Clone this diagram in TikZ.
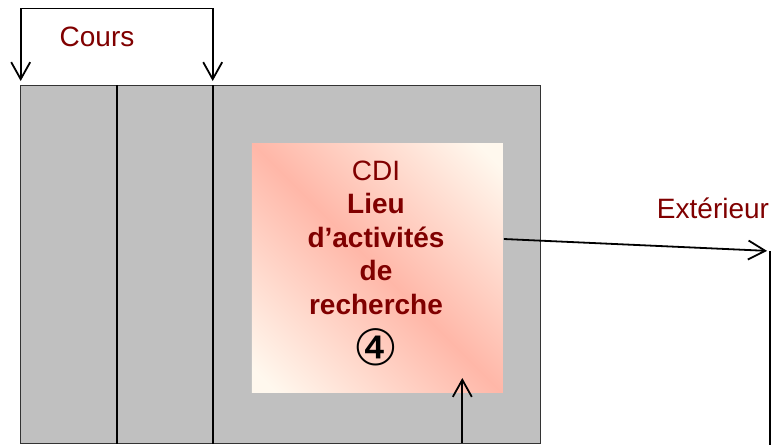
\documentclass[tikz,border=0pt]{standalone}
\usepackage{fontspec}
\setmainfont{Liberation Sans}
\newfontfamily\symbfont{DejaVu Sans}
\usepackage{tikz}
\usetikzlibrary{positioning}
\usetikzlibrary{arrows.meta}

\definecolor{titre}{RGB}{128,0,0}
\definecolor{salle}{RGB}{192,192,192}
\definecolor{saumon}{RGB}{255,183,168}
\definecolor{creme}{RGB}{255,248,238}
\pgfdeclarehorizontalshading{cdifond}{100bp}{color(0bp)=(creme); color(18bp)=(creme); color(50bp)=(saumon); color(82bp)=(creme); color(100bp)=(creme)}

\begin{document}
\begin{tikzpicture}[x=1pt,y=-1pt,>={Straight Barb[length=17pt,width=19pt]},
	line width=1.8pt,
	room/.style={rectangle,draw=black!80,line width=1pt,fill=salle,inner sep=0pt,anchor=north west},
	label text/.style={text=titre,inner sep=0pt,font=\fontsize{28}{33.5}\selectfont}]
	
	\useasboundingbox (0,0) rectangle (781,445);
	
	\node[room,minimum width=520pt,minimum height=358pt] (ecole) at (20,85) {};
	\node[inner sep=0pt,anchor=north west,minimum width=251pt,minimum height=249pt,
		shade,shading=cdifond,shading angle=45] (cdi) at (251,143) {};
	
	\coordinate (mur1) at (117,85);
	\coordinate (mur2) at (212.7,85);
	\draw (mur1) -- (mur1 |- ecole.south);
	\draw (mur2) -- (mur2 |- ecole.south);
	
	\node[label text] (cours) at (97,37) {Cours};
	\node[label text] (exterieur) at (713,208) {Extérieur};
	\node[label text,align=center,anchor=north] (lieu) at (376,160)
		{CDI\\\textbf{Lieu}\\\textbf{d’activités}\\\textbf{de}\\\textbf{recherche}};
	\node[inner sep=0pt,below=12pt of lieu,font=\symbfont\fontsize{50}{50}\selectfont] (num) {④};
	
	\coordinate (coursG) at (20.7,81);
	\coordinate (coursD) at (212.7,81);
	\coordinate (sortie) at (cdi.east |- 0,239);
	\coordinate (dehors) at (770,251);
	\coordinate (entree) at (462.3,443);
	\coordinate (cdibas) at (462.3,378);
	
	\draw[<->] (coursG) -- ++(0,-72.5) -| (coursD);
	\draw[->,shorten >=3pt] (sortie) -- (dehors);
	\draw (dehors) -- (dehors |- 0,445);
	\draw[->] (entree) -- (cdibas);
	\end{tikzpicture}
\end{document}
